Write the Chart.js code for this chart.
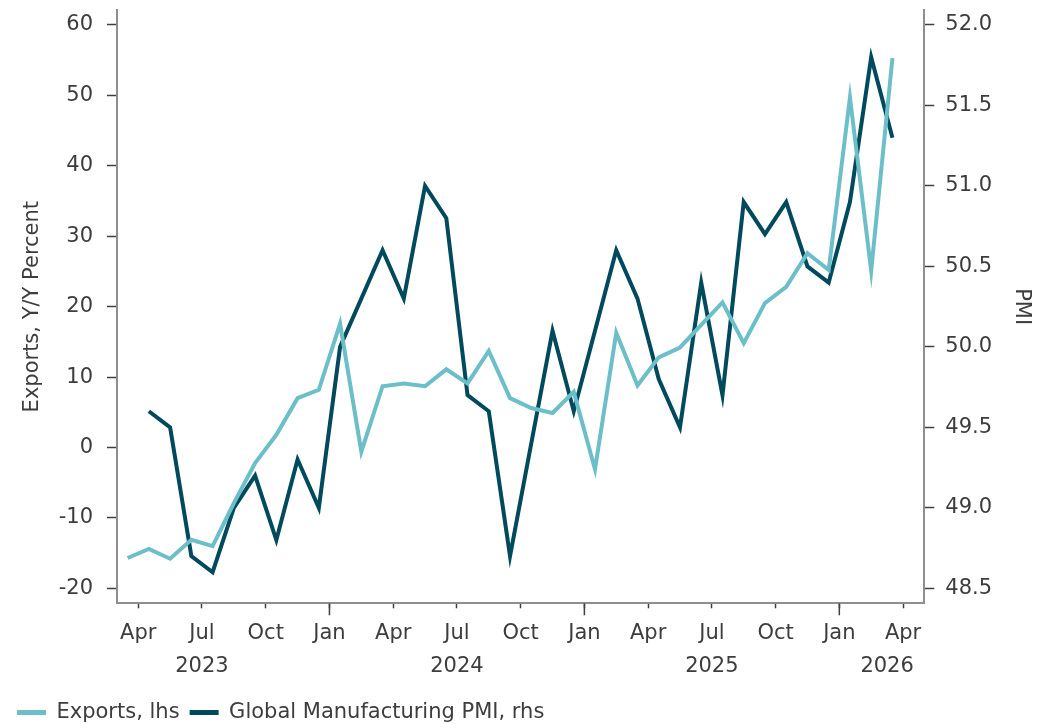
<!DOCTYPE html>
<html>
<head>
<meta charset="utf-8">
<title>Exports vs Global Manufacturing PMI</title>
<script src="https://cdn.jsdelivr.net/npm/chart.js@4.4.1/dist/chart.umd.min.js"></script>
<style>
    html, body { margin: 0; padding: 0; background: #fff; }
    #wrap { width: 1039px; height: 724px; position: relative; }
</style>
</head>
<body>
<div id="wrap"><canvas id="chartExports"></canvas></div>
<script>
// monthly observations, Mar 2023 .. Mar 2026
const months = [
    "2023-03", "2023-04", "2023-05", "2023-06", "2023-07", "2023-08", "2023-09", "2023-10", "2023-11", "2023-12",
    "2024-01", "2024-02", "2024-03", "2024-04", "2024-05", "2024-06", "2024-07", "2024-08", "2024-09", "2024-10", "2024-11", "2024-12",
    "2025-01", "2025-02", "2025-03", "2025-04", "2025-05", "2025-06", "2025-07", "2025-08", "2025-09", "2025-10", "2025-11", "2025-12",
    "2026-01", "2026-02", "2026-03"
];
// exports, y/y %  (lhs)
const exportsYoY = [
    -15.7, -14.4, -15.8, -13.1, -14.0, -7.9, -2.2, 1.8, 7.0, 8.2,
    17.6, -0.6, 8.7, 9.1, 8.7, 11.1, 9.1, 13.7, 7.0, 5.6, 4.9, 7.9,
    -3.1, 16.3, 8.8, 12.8, 14.2, 17.4, 20.6, 14.8, 20.5, 22.8, 27.6, 25.2,
    49.7, 25.1, 55.3
];
// global manufacturing PMI (rhs), no Mar 2023 value
const globalPmi = [
    null, 49.6, 49.5, 48.7, 48.6, 49.0, 49.2, 48.8, 49.3, 49.0,
    50.0, 50.3, 50.6, 50.3, 51.0, 50.8, 49.7, 49.6, 48.7, 49.4, 50.1, 49.6,
    50.1, 50.6, 50.3, 49.8, 49.5, 50.4, 49.7, 50.9, 50.7, 50.9, 50.5, 50.4,
    50.9, 51.8, 51.3
];
const monthNames = ["Jan", "Feb", "Mar", "Apr", "May", "Jun", "Jul", "Aug", "Sep", "Oct", "Nov", "Dec"];
const quarterTicks = ["2023-04", "2023-07", "2023-10", "2024-01", "2024-04", "2024-07", "2024-10",
                      "2025-01", "2025-04", "2025-07", "2025-10", "2026-01", "2026-04"];
const yearLabels = ["2023", "2024", "2025", "2026"];
const leftTicks = [-20, -10, 0, 10, 20, 30, 40, 50, 60];
const rightTicks = [48.5, 49.0, 49.5, 50.0, 50.5, 51.0, 51.5, 52.0];

// months counted from Jan 2023
const monthIndex = s => (parseInt(s.slice(0, 4)) - 2023) * 12 + parseInt(s.slice(5, 7)) - 1;
const toPoints = vals => vals.map((v, i) => ({x: monthIndex(months[i]) + 0.5, y: v}));
const quarterPos = quarterTicks.map(monthIndex);
const yearPos = [6, 18, 30, 38.25];

const textColor = '#3d3d3d';
const font = {family: '"DejaVu Sans", Verdana, sans-serif', size: 21};
const tealColor = '#6cbfc9';
const darkColor = '#014a5e';

// pin a scale's size and drop the extra room Chart.js keeps for edge labels
const pinSize = (w, h) => s => {
    if (w !== null) s.width = w;
    if (h !== null) s.height = h;
    s.paddingTop = 0;
    s.paddingBottom = 0;
    s.paddingLeft = 0;
    s.paddingRight = 0;
};

const longJanTicks = {
    id: 'longJanTicks',
    afterDraw(chart) {
        const xs = chart.scales.x;
        const ctx = chart.ctx;
        ctx.save();
        ctx.strokeStyle = '#404040';
        ctx.lineWidth = 1.5;
        quarterPos.filter(v => v % 12 === 0).forEach(v => {
            const px = xs.getPixelForValue(v);
            ctx.beginPath();
            ctx.moveTo(px, xs.top);
            ctx.lineTo(px, xs.top + 12);
            ctx.stroke();
        });
        ctx.restore();
    }
};

new Chart(document.getElementById('chartExports'), {
    type: 'line',
    data: {
        datasets: [{
            label: 'Exports, lhs',
            data: toPoints(exportsYoY),
            borderColor: tealColor,
            backgroundColor: tealColor,
            borderWidth: 4,
            pointRadius: 0,
            tension: 0,
            yAxisID: 'y',
            xAxisID: 'x'
        }, {
            label: 'Global Manufacturing PMI, rhs',
            data: toPoints(globalPmi),
            borderColor: darkColor,
            backgroundColor: darkColor,
            borderWidth: 4,
            pointRadius: 0,
            tension: 0,
            yAxisID: 'y1',
            xAxisID: 'x'
        }]
    },
    options: {
        responsive: true,
        maintainAspectRatio: false,
        animation: false,
        layout: {padding: {left: 7, top: 10, right: 0, bottom: -9}},
        plugins: {
            tooltip: {enabled: false},
            legend: {
                position: 'bottom',
                align: 'start',
                labels: {
                    font: font,
                    color: textColor,
                    boxWidth: 29,
                    boxHeight: 5,
                    padding: 10,
                    generateLabels: chart => chart.data.datasets.map((ds, i) => ({
                        text: ds.label,
                        fillStyle: ds.borderColor,
                        strokeStyle: ds.borderColor,
                        lineWidth: 0,
                        fontColor: textColor,
                        datasetIndex: i
                    }))
                }
            }
        },
        scales: {
            x: {
                type: 'linear',
                position: 'bottom',
                min: 2,
                max: 40,
                afterBuildTicks: axis => { axis.ticks = quarterPos.map(v => ({value: v})); },
                ticks: {
                    autoSkip: false,
                    maxRotation: 0,
                    font: font,
                    color: textColor,
                    padding: 13,
                    callback: v => monthNames[v % 12]
                },
                grid: {drawOnChartArea: false, drawTicks: true, tickLength: 5, tickColor: '#404040', tickWidth: 1.5},
                border: {color: '#8f8f8f', width: 2},
                afterFit: pinSize(null, 50.2)
            },
            xYear: {
                type: 'linear',
                position: 'bottom',
                min: 2,
                max: 40,
                afterBuildTicks: axis => { axis.ticks = yearPos.map(v => ({value: v})); },
                ticks: {
                    autoSkip: false,
                    maxRotation: 0,
                    font: font,
                    color: textColor,
                    padding: 0,
                    callback: (v, i) => yearLabels[i]
                },
                grid: {display: false, drawTicks: false},
                border: {display: false},
                afterFit: pinSize(null, 38.5)
            },
            y: {
                position: 'left',
                min: -22.13,
                max: 62.13,
                afterBuildTicks: axis => { axis.ticks = leftTicks.map(v => ({value: v})); },
                ticks: {font: font, color: textColor, padding: 14},
                grid: {drawOnChartArea: false, tickLength: 10, tickColor: '#404040', tickWidth: 1.5},
                border: {color: '#8f8f8f', width: 2},
                title: {display: true, text: 'Exports, Y/Y Percent', font: font, color: textColor, padding: {top: 13, bottom: 0}},
                afterFit: pinSize(110, null)
            },
            y1: {
                position: 'right',
                min: 48.407,
                max: 52.093,
                afterBuildTicks: axis => { axis.ticks = rightTicks.map(v => ({value: v})); },
                ticks: {font: font, color: textColor, padding: 11, callback: v => v.toFixed(1)},
                grid: {drawOnChartArea: false, tickLength: 10, tickColor: '#404040', tickWidth: 1.5},
                border: {color: '#8f8f8f', width: 2},
                title: {display: true, text: 'PMI', font: font, color: textColor, padding: {top: 5, bottom: 0}},
                afterFit: pinSize(114.7, null)
            }
        }
    },
    plugins: [longJanTicks]
});
</script>
</body>
</html>
